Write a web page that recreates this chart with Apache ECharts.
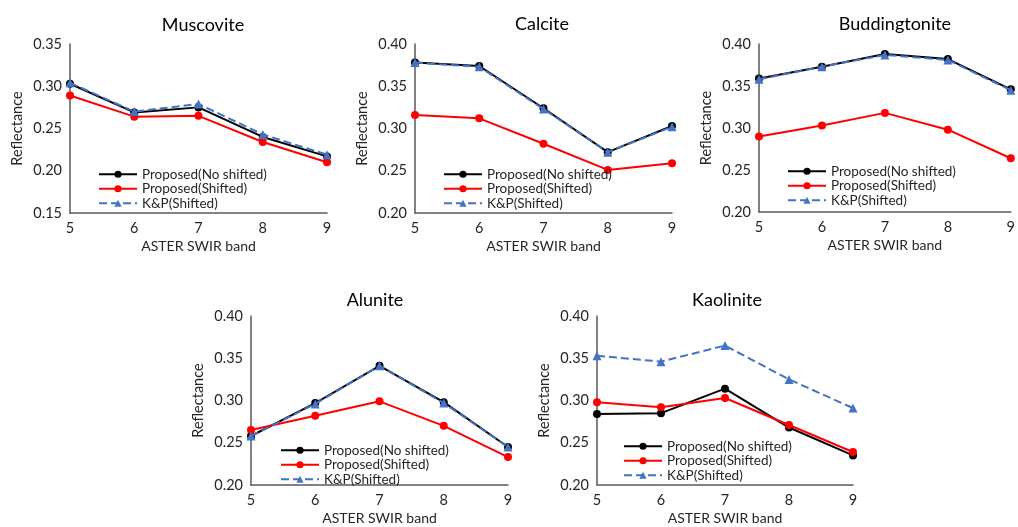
<!DOCTYPE html>
<html>
<head>
<meta charset="utf-8">
<script src="https://cdn.jsdelivr.net/npm/echarts@6/dist/echarts.min.js"></script>
<style>
  html, body { margin: 0; padding: 0; background: #fff; }
  #chart { width: 1018px; height: 527px; }
</style>
</head>
<body>
<div id="chart"></div>
<script>
// ---- Data ----
const bands = ['5', '6', '7', '8', '9'];
const seriesNames = ['Proposed(No shifted)', 'Proposed(Shifted)', 'K&P(Shifted)'];
const panelTitles = ['Muscovite', 'Calcite', 'Buddingtonite', 'Alunite', 'Kaolinite'];

const muscoviteNoShift = [0.303, 0.269, 0.275, 0.240, 0.217];
const muscoviteShifted = [0.289, 0.264, 0.265, 0.234, 0.210];
const muscoviteKP      = [0.304, 0.270, 0.279, 0.243, 0.219];

const calciteNoShift = [0.378, 0.374, 0.324, 0.272, 0.303];
const calciteShifted = [0.316, 0.312, 0.282, 0.251, 0.259];
const calciteKP      = [0.378, 0.373, 0.323, 0.272, 0.302];

const buddingtoniteNoShift = [0.359, 0.373, 0.388, 0.382, 0.346];
const buddingtoniteShifted = [0.290, 0.303, 0.318, 0.298, 0.264];
const buddingtoniteKP      = [0.358, 0.373, 0.387, 0.381, 0.345];

const aluniteNoShift = [0.258, 0.297, 0.341, 0.298, 0.245];
const aluniteShifted = [0.265, 0.282, 0.299, 0.270, 0.233];
const aluniteKP      = [0.258, 0.296, 0.341, 0.297, 0.245];

const kaoliniteNoShift = [0.284, 0.285, 0.314, 0.268, 0.235];
const kaoliniteShifted = [0.298, 0.292, 0.303, 0.271, 0.239];
const kaoliniteKP      = [0.353, 0.346, 0.365, 0.325, 0.291];

const yMins = [0.15, 0.20, 0.20, 0.20, 0.20];
const yMaxs = [0.35, 0.40, 0.40, 0.40, 0.40];
const yStep = 0.05;

const panelData = [
  [muscoviteNoShift, muscoviteShifted, muscoviteKP],
  [calciteNoShift, calciteShifted, calciteKP],
  [buddingtoniteNoShift, buddingtoniteShifted, buddingtoniteKP],
  [aluniteNoShift, aluniteShifted, aluniteKP],
  [kaoliniteNoShift, kaoliniteShifted, kaoliniteKP]
];

// ---- Layout (pixels) ----
const grids = [
  { left: 70,  width: 257, top: 44,  height: 169 },
  { left: 415, width: 257, top: 44,  height: 169 },
  { left: 759, width: 258, top: 44,  height: 168 },
  { left: 251, width: 257, top: 316, height: 169 },
  { left: 597, width: 256, top: 316, height: 169 }
];
const titlePos = [
  { x: 198, y: 11 }, { x: 537, y: 10 }, { x: 890, y: 10 },
  { x: 370, y: 286 }, { x: 722, y: 286 }
];
const legendPos = [
  { x: 93, y: 162 }, { x: 438, y: 162 }, { x: 782, y: 159 },
  { x: 275, y: 438 }, { x: 618, y: 434 }
];

const FONT = 'Lato';
const colors = ['#000000', '#ff0000', '#4472c4'];
const symbols = ['circle', 'circle', 'triangle'];
const symbolSizes = [8, 8, 9];
const lineTypes = ['solid', 'solid', 'dashed'];
const axisColor = '#595959';
const textColor = '#262626';

const option = {
  backgroundColor: '#fff',
  animation: false,
  title: [], grid: [], xAxis: [], yAxis: [], legend: [], series: []
};

for (let p = 0; p < 5; p++) {
  option.title.push({
    text: panelTitles[p],
    left: titlePos[p].x, top: titlePos[p].y, textAlign: 'center',
    textStyle: { fontFamily: FONT, fontSize: 18, fontWeight: 'normal', color: '#000' }
  });
  option.grid.push(Object.assign({ containLabel: false }, grids[p]));
  option.xAxis.push({
    type: 'category', gridIndex: p, data: bands, boundaryGap: false,
    name: 'ASTER SWIR band', nameLocation: 'middle', nameGap: 26,
    nameTextStyle: { fontFamily: FONT, fontSize: 14, color: textColor },
    axisLine: { show: true, lineStyle: { color: axisColor, width: 1.5 } },
    axisTick: { show: false },
    axisLabel: { fontFamily: FONT, fontSize: 14.5, color: textColor, margin: 8 },
    splitLine: { show: false }
  });
  option.yAxis.push({
    type: 'value', gridIndex: p, min: yMins[p], max: yMaxs[p], interval: yStep,
    name: 'Reflectance', nameLocation: 'middle', nameGap: 45,
    nameTextStyle: { fontFamily: FONT, fontSize: 14.5, color: textColor },
    axisLine: { show: true, lineStyle: { color: axisColor, width: 1.5 } },
    axisTick: { show: false },
    axisLabel: { fontFamily: FONT, fontSize: 14.5, color: textColor, margin: 8,
      formatter: v => v.toFixed(2) },
    splitLine: { show: false }
  });
  option.legend.push({
    orient: 'vertical', left: legendPos[p].x, top: legendPos[p].y,
    itemWidth: 38, itemHeight: 9, itemGap: 0,
    data: seriesNames,
    textStyle: { fontFamily: FONT, fontSize: 13.5, color: textColor, lineHeight: 14.5 }
  });
  for (let s = 0; s < 3; s++) {
    option.series.push({
      name: seriesNames[s], type: 'line',
      xAxisIndex: p, yAxisIndex: p,
      data: panelData[p][s],
      symbol: symbols[s], symbolSize: symbolSizes[s], showSymbol: true,
      lineStyle: { color: colors[s], width: 2, type: lineTypes[s] },
      itemStyle: { color: colors[s] },
      z: 2 + s
    });
  }
}

const chart = echarts.init(document.getElementById('chart'), null, { renderer: 'canvas' });
chart.setOption(option);
</script>
</body>
</html>
